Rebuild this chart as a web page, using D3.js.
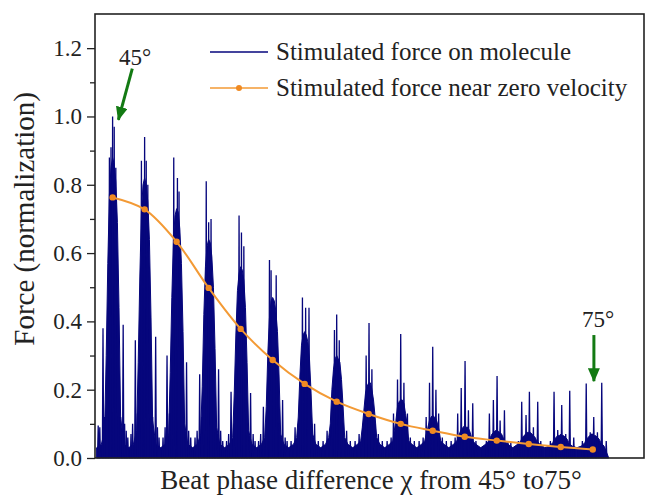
<!DOCTYPE html>
<html>
<head>
<meta charset="utf-8">
<script src="https://cdn.jsdelivr.net/npm/d3@7"></script>
<style>
  body { margin: 0; background: #fff; }
  text { font-family: "Liberation Serif", "Times New Roman", serif; fill: #222; }
</style>
</head>
<body>
<svg id="chart"></svg>
<script>
// --- DATA ---
// burst centres (beat phase, degrees)
const burstPhase = [45, 47, 49, 51, 53, 55, 57, 59, 61, 63, 65, 67, 69, 71, 73, 75];

// dense core of every burst: offsets from the centre (deg) and envelope heights
const coreOffsets = [-1, -0.7, -0.5, -0.4, -0.3, -0.2, -0.1, 0, 0.1, 0.2, 0.3, 0.4, 0.5, 0.7, 1];
const coreHeights = [
  [0.03, 0.04, 0.08, 0.3, 0.57, 0.77, 0.85, 0.88, 0.86, 0.81, 0.69, 0.44, 0.12, 0.04, 0.03],
  [0.03, 0.04, 0.08, 0.28, 0.53, 0.72, 0.8, 0.82, 0.8, 0.75, 0.64, 0.41, 0.11, 0.04, 0.03],
  [0.03, 0.04, 0.07, 0.25, 0.47, 0.64, 0.71, 0.73, 0.72, 0.67, 0.57, 0.37, 0.1, 0.04, 0.03],
  [0.03, 0.04, 0.07, 0.21, 0.42, 0.56, 0.62, 0.64, 0.63, 0.59, 0.5, 0.32, 0.09, 0.04, 0.03],
  [0.03, 0.04, 0.06, 0.19, 0.36, 0.49, 0.54, 0.56, 0.55, 0.52, 0.44, 0.28, 0.08, 0.04, 0.03],
  [0.03, 0.04, 0.06, 0.15, 0.31, 0.41, 0.46, 0.47, 0.46, 0.43, 0.37, 0.24, 0.07, 0.04, 0.03],
  [0.03, 0.04, 0.06, 0.12, 0.24, 0.33, 0.36, 0.37, 0.36, 0.34, 0.29, 0.19, 0.07, 0.04, 0.03],
  [0.03, 0.04, 0.06, 0.1, 0.2, 0.26, 0.29, 0.3, 0.29, 0.28, 0.23, 0.15, 0.06, 0.04, 0.03],
  [0.03, 0.04, 0.05, 0.09, 0.14, 0.19, 0.21, 0.22, 0.22, 0.2, 0.17, 0.12, 0.06, 0.04, 0.03],
  [0.03, 0.04, 0.05, 0.08, 0.11, 0.15, 0.165, 0.17, 0.17, 0.16, 0.13, 0.1, 0.05, 0.04, 0.03],
  [0.03, 0.04, 0.05, 0.07, 0.09, 0.11, 0.12, 0.125, 0.12, 0.115, 0.1, 0.08, 0.05, 0.04, 0.03],
  [0.03, 0.04, 0.05, 0.06, 0.075, 0.085, 0.09, 0.095, 0.09, 0.09, 0.08, 0.065, 0.05, 0.04, 0.03],
  [0.03, 0.04, 0.05, 0.06, 0.07, 0.075, 0.08, 0.08, 0.078, 0.075, 0.07, 0.06, 0.05, 0.04, 0.03],
  [0.03, 0.04, 0.05, 0.06, 0.065, 0.07, 0.075, 0.075, 0.075, 0.07, 0.065, 0.06, 0.05, 0.04, 0.03],
  [0.03, 0.035, 0.045, 0.055, 0.06, 0.065, 0.065, 0.07, 0.065, 0.065, 0.06, 0.055, 0.045, 0.035, 0.03],
  [0.03, 0.035, 0.045, 0.055, 0.06, 0.065, 0.07, 0.07, 0.065, 0.065, 0.06, 0.055, 0.045, 0.035, 0]
];

// single spikes of every burst: [offset from centre (deg), height]
const spikeData = [
  [[-0.9, 0.095], [-0.8, 0.09], [-0.6, 0.38], [-0.5, 0.12], [-0.2, 0.88], [-0.1, 0.91], [0, 1.0], [0.1, 0.97], [0.2, 0.85], [0.5, 0.12], [0.66, 0.39], [0.75, 0.1], [0.85, 0.08], [0.95, 0.06]],
  [[-0.85, 0.07], [-0.75, 0.1], [-0.58, 0.345], [-0.45, 0.13], [-0.2, 0.87], [0, 0.94], [0.1, 0.87], [0.2, 0.8], [0.5, 0.12], [0.69, 0.355], [0.8, 0.09], [0.9, 0.06]],
  [[-0.85, 0.06], [-0.72, 0.09], [-0.6, 0.3], [-0.45, 0.13], [-0.18, 0.88], [0.05, 0.82], [0.15, 0.78], [0.45, 0.12], [0.62, 0.28], [0.75, 0.08], [0.88, 0.06]],
  [[-0.85, 0.06], [-0.72, 0.08], [-0.56, 0.245], [-0.42, 0.12], [-0.15, 0.81], [0, 0.69], [0.15, 0.7], [0.45, 0.11], [0.62, 0.26], [0.75, 0.08], [0.88, 0.05]],
  [[-0.88, 0.05], [-0.75, 0.07], [-0.6, 0.194], [-0.42, 0.1], [-0.1, 0.71], [0.05, 0.66], [0.2, 0.62], [0.45, 0.1], [0.62, 0.19], [0.78, 0.07], [0.9, 0.05]],
  [[-0.88, 0.05], [-0.75, 0.07], [-0.58, 0.15], [-0.4, 0.1], [-0.2, 0.58], [-0.1, 0.55], [0.22, 0.535], [0.42, 0.1], [0.62, 0.17], [0.78, 0.06], [0.9, 0.05]],
  [[-0.85, 0.05], [-0.6, 0.09], [-0.4, 0.1], [-0.14, 0.47], [0.06, 0.44], [0.27, 0.44], [0.45, 0.1], [0.62, 0.1], [0.85, 0.05]],
  [[-0.85, 0.05], [-0.6, 0.08], [-0.35, 0.1], [-0.14, 0.375], [0, 0.42], [0.16, 0.345], [0.4, 0.1], [0.62, 0.08], [0.85, 0.05]],
  [[-0.85, 0.05], [-0.6, 0.07], [-0.35, 0.1], [-0.16, 0.3], [0.02, 0.395], [0.2, 0.26], [0.4, 0.1], [0.6, 0.07], [0.85, 0.05]],
  [[-0.85, 0.05], [-0.6, 0.06], [-0.45, 0.13], [-0.2, 0.23], [0, 0.363], [0.2, 0.22], [0.42, 0.13], [0.6, 0.06], [0.85, 0.05]],
  [[-0.85, 0.05], [-0.6, 0.06], [-0.41, 0.12], [-0.2, 0.22], [0, 0.326], [0.2, 0.2], [0.37, 0.13], [0.6, 0.06], [0.85, 0.05]],
  [[-0.85, 0.05], [-0.6, 0.06], [-0.44, 0.13], [-0.22, 0.205], [0.02, 0.284], [0.23, 0.14], [0.5, 0.16], [0.7, 0.05]],
  [[-0.65, 0.05], [-0.46, 0.13], [-0.21, 0.17], [0.02, 0.24], [0.21, 0.11], [0.48, 0.14], [0.7, 0.05], [0.88, 0.045]],
  [[-0.65, 0.05], [-0.44, 0.165], [-0.17, 0.126], [0.04, 0.194], [0.29, 0.09], [0.56, 0.165], [0.75, 0.05]],
  [[-0.65, 0.05], [-0.42, 0.194], [-0.19, 0.082], [0.06, 0.155], [0.31, 0.07], [0.56, 0.197], [0.81, 0.06]],
  [[-0.65, 0.05], [-0.41, 0.218], [-0.16, 0.075], [0.06, 0.12], [0.29, 0.075], [0.56, 0.22], [0.84, 0.05]]
];

// force near zero velocity (orange line)
const zeroVelForce = [0.763, 0.728, 0.633, 0.498, 0.378, 0.287, 0.217, 0.165, 0.129, 0.1, 0.08, 0.062, 0.051, 0.041, 0.032, 0.025];

const yTicks = [0, 0.2, 0.4, 0.6, 0.8, 1.0, 1.2];
const yMinorTicks = [0.1, 0.3, 0.5, 0.7, 0.9, 1.1];
const legendLabels = ["Stimulated force on molecule", "Stimulated force near zero velocity"];

// --- SETUP ---
const W = 646, H = 496;
const margin = { top: 14, right: 2, bottom: 38, left: 95 };
const width = W - margin.left - margin.right;
const height = H - margin.top - margin.bottom;

const blue = "#06067c";
const orange = "#f39a35";
const green = "#137a13";

const svg = d3.select("#chart").attr("width", W).attr("height", H);
const g = svg.append("g").attr("transform", `translate(${margin.left},${margin.top})`);

const x = d3.scaleLinear().domain([43.9, 78.2]).range([0, width]);
const y = d3.scaleLinear().domain([0, 1.3]).range([height, 0]);

// --- BLUE SIGNAL ---
const coreArea = d3.area()
  .x(d => x(d[0]))
  .y0(y(0))
  .y1(d => y(d[1]));

const sigGroup = g.append("g");
burstPhase.forEach((c, i) => {
  const pts = coreOffsets.map((o, k) => [c + o, coreHeights[i][k]]);
  sigGroup.append("path")
    .attr("d", coreArea(pts))
    .attr("fill", blue)
    .attr("stroke", blue)
    .attr("stroke-width", 1);

  spikeData[i].forEach(s => {
    const p = d3.path();
    p.moveTo(x(c + s[0] - 0.04), y(0));
    p.lineTo(x(c + s[0]), y(s[1]));
    p.lineTo(x(c + s[0] + 0.04), y(0));
    sigGroup.append("path")
      .attr("d", p.toString())
      .attr("fill", blue)
      .attr("stroke", blue)
      .attr("stroke-width", 1.3)
      .attr("stroke-linejoin", "miter");
  });
});

// --- ORANGE LINE ---
const zv = burstPhase.map((p, i) => [p, zeroVelForce[i]]);
g.append("path")
  .datum(zv)
  .attr("fill", "none")
  .attr("stroke", orange)
  .attr("stroke-width", 2)
  .attr("d", d3.line().x(d => x(d[0])).y(d => y(d[1])).curve(d3.curveCatmullRom));

g.selectAll(".zv-dot")
  .data(zv)
  .join("circle")
  .attr("class", "zv-dot")
  .attr("cx", d => x(d[0]))
  .attr("cy", d => y(d[1]))
  .attr("r", 3.2)
  .attr("fill", "#f08a22");

// --- AXES AND FRAME ---
const yAxis = d3.axisLeft(y).tickValues(yTicks).tickSize(8).tickPadding(5).tickFormat(d3.format(".1f"));
const yMinor = d3.axisLeft(y).tickValues(yMinorTicks).tickSize(5).tickFormat("");

const ya = g.append("g").call(yAxis);
ya.select(".domain").remove();
ya.selectAll("line").attr("stroke", "#222").attr("stroke-width", 1.3);
ya.selectAll("text").attr("font-size", 23).style("font-family", "Liberation Serif").attr("fill", "#222");

const ym = g.append("g").call(yMinor);
ym.select(".domain").remove();
ym.selectAll("line").attr("stroke", "#222").attr("stroke-width", 1.3);

g.append("rect")
  .attr("x", 0).attr("y", 0)
  .attr("width", width).attr("height", height)
  .attr("fill", "none")
  .attr("stroke", "#222")
  .attr("stroke-width", 1.6);

// axis labels
svg.append("text")
  .attr("transform", `translate(34,${margin.top + y(0.7)}) rotate(-90)`)
  .attr("text-anchor", "middle")
  .attr("font-size", 29)
  .text("Force (normalization)");

svg.append("text")
  .attr("x", 371)
  .attr("y", 489)
  .attr("text-anchor", "middle")
  .attr("font-size", 27)
  .text("Beat phase difference χ from 45° to75°");

// --- LEGEND ---
const legend = g.append("g");
const legendRows = [
  { label: legendLabels[0], color: blue, dot: false },
  { label: legendLabels[1], color: orange, dot: true }
];
legendRows.forEach((r, i) => {
  const ly = 38 + i * 36;
  legend.append("line")
    .attr("x1", 115).attr("x2", 173)
    .attr("y1", ly).attr("y2", ly)
    .attr("stroke", r.color)
    .attr("stroke-width", 1.6);
  if (r.dot) {
    legend.append("circle").attr("cx", 144).attr("cy", ly).attr("r", 3).attr("fill", "#f08a22");
  }
  legend.append("text")
    .attr("x", 181)
    .attr("y", ly + 8)
    .attr("font-size", 25)
    .text(r.label);
});

// --- ANNOTATIONS ---
svg.append("defs").append("marker")
  .attr("id", "arrowhead")
  .attr("markerUnits", "userSpaceOnUse")
  .attr("viewBox", "0 0 14 12")
  .attr("refX", 13).attr("refY", 6)
  .attr("markerWidth", 14).attr("markerHeight", 12)
  .attr("orient", "auto")
  .append("path")
  .attr("d", "M0,0 L14,6 L0,12 Z")
  .attr("fill", green);

const notes = [
  { label: "45°", tx: 46.4, ty: 1.15, from: [46.23, 1.14], to: [45.36, 0.99] },
  { label: "75°", tx: 75.33, ty: 0.383, from: [75.07, 0.36], to: [75.07, 0.225] }
];
notes.forEach(n => {
  g.append("text")
    .attr("x", x(n.tx))
    .attr("y", y(n.ty))
    .attr("text-anchor", "middle")
    .attr("font-size", 23)
    .text(n.label);
  g.append("line")
    .attr("x1", x(n.from[0])).attr("y1", y(n.from[1]))
    .attr("x2", x(n.to[0])).attr("y2", y(n.to[1]))
    .attr("stroke", green)
    .attr("stroke-width", 3)
    .attr("marker-end", "url(#arrowhead)");
});
</script>
</body>
</html>
